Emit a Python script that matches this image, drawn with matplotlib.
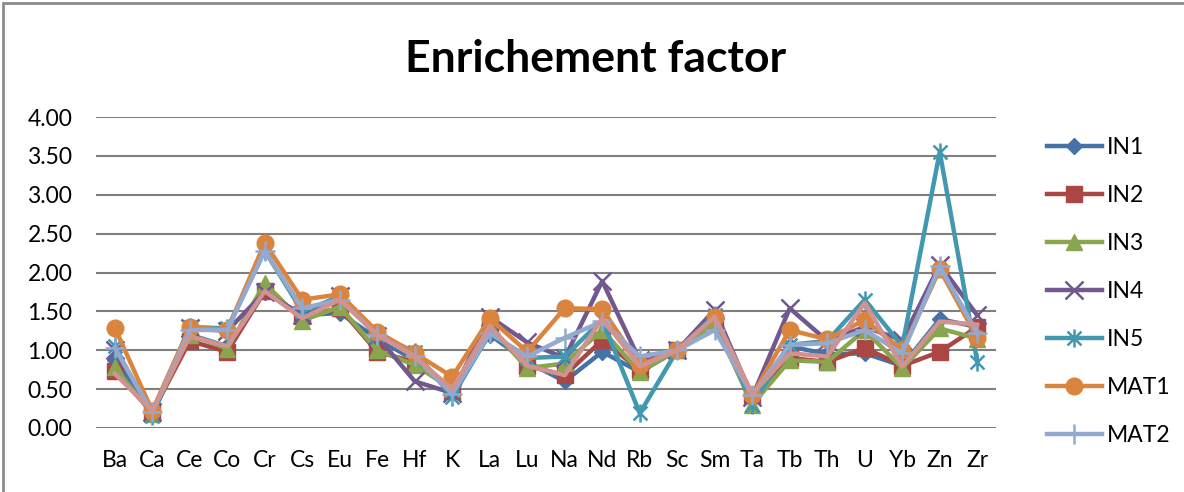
import matplotlib
matplotlib.use("Agg")
import matplotlib.pyplot as plt
from matplotlib.path import Path
from matplotlib.patches import Rectangle

elements = ["Ba", "Ca", "Ce", "Co", "Cr", "Cs", "Eu", "Fe", "Hf", "K", "La", "Lu",
            "Na", "Nd", "Rb", "Sc", "Sm", "Ta", "Tb", "Th", "U", "Yb", "Zn", "Zr"]

IN1 = [0.88, 0.18, 1.20, 1.05, 1.75, 1.45, 1.48, 1.15, 0.87, 0.48, 1.20, 0.85,
       0.60, 0.98, 0.72, 1.00, 1.35, 0.40, 1.05, 0.95, 0.96, 0.80, 1.40, 1.30]
IN2 = [0.73, 0.20, 1.12, 0.98, 1.76, 1.44, 1.54, 0.98, 0.85, 0.48, 1.30, 0.80,
       0.68, 1.13, 0.75, 1.00, 1.35, 0.42, 0.90, 0.85, 1.03, 0.80, 0.98, 1.30]
IN3 = [0.78, 0.18, 1.20, 1.02, 1.86, 1.38, 1.56, 1.00, 0.81, 0.50, 1.30, 0.77,
       0.83, 1.26, 0.72, 1.00, 1.35, 0.30, 0.87, 0.85, 1.26, 0.77, 1.28, 1.15]
IN4 = [1.00, 0.20, 1.28, 1.25, 1.75, 1.45, 1.70, 1.18, 0.60, 0.45, 1.43, 1.10,
       0.90, 1.89, 0.87, 1.00, 1.52, 0.40, 1.54, 1.12, 1.30, 1.13, 2.10, 1.45]
IN5 = [1.05, 0.15, 1.30, 1.28, 2.28, 1.50, 1.69, 1.20, 0.98, 0.40, 1.22, 0.90,
       0.92, 1.39, 0.19, 1.00, 1.45, 0.30, 1.07, 1.12, 1.65, 1.05, 3.55, 0.85]
MAT1 = [1.29, 0.22, 1.30, 1.26, 2.38, 1.65, 1.72, 1.24, 0.96, 0.66, 1.41, 0.98,
        1.54, 1.53, 0.81, 1.00, 1.43, 0.42, 1.26, 1.14, 1.39, 1.00, 2.04, 1.16]
MAT2 = [1.03, 0.20, 1.26, 1.26, 2.28, 1.54, 1.65, 1.20, 0.92, 0.44, 1.22, 0.92,
        1.16, 1.37, 0.92, 1.00, 1.26, 0.42, 1.07, 1.09, 1.26, 0.96, 2.08, 1.22]
MAT3 = [0.70, 0.22, 1.18, 1.05, 1.76, 1.41, 1.65, 1.20, 0.92, 0.50, 1.31, 0.80,
        0.68, 1.41, 0.79, 1.00, 1.43, 0.44, 0.96, 0.92, 1.61, 0.79, 1.37, 1.33]

series_names = ["IN1", "IN2", "IN3", "IN4", "IN5", "MAT1", "MAT2", "MAT3"]
series_data = [IN1, IN2, IN3, IN4, IN5, MAT1, MAT2, MAT3]
colors = ["#4572A7", "#AA4643", "#89A54E", "#71588F", "#4198AF",
          "#DB843D", "#93A9CF", "#D19392"]

# Excel-like asterisk marker: x plus vertical line
ast = Path([(-1, -1), (1, 1), (-1, 1), (1, -1), (0, -1.3), (0, 1.3)],
           [Path.MOVETO, Path.LINETO, Path.MOVETO, Path.LINETO, Path.MOVETO, Path.LINETO])
markers = ["D", "s", "^", "x", ast, "o", "+", None]
msizes = [8, 11, 11, 13, 13, 12, 14, 0]

font = "Lato"
plt.rcParams["font.family"] = [font, "DejaVu Sans"]

fig = plt.figure(figsize=(11.84, 4.92), dpi=100)
W, H = 1184, 492
ax = fig.add_axes([96 / W, 1 - 428 / H, 900 / W, 311 / H])

x = list(range(len(elements)))
handles = []
for name, data, c, m, ms in zip(series_names, series_data, colors, markers, msizes):
    kw = {}
    if m is not None:
        if m in ("x", "+") or m is ast:
            kw = dict(marker=m, markersize=ms, markeredgewidth=1.8, markeredgecolor=c)
        else:
            kw = dict(marker=m, markersize=ms, markerfacecolor=c, markeredgecolor=c)
    h, = ax.plot(x, data, color=c, linewidth=3.2, solid_joinstyle="round",
                 label=name, **kw)
    handles.append(h)

ax.set_xlim(-0.5, len(elements) - 0.5)
ax.set_ylim(0, 4)
ax.set_yticks([0, 0.5, 1.0, 1.5, 2.0, 2.5, 3.0, 3.5, 4.0])
ax.set_yticklabels([f"{v:.2f}" for v in ax.get_yticks()])
ax.set_xticks(x)
ax.set_xticklabels(elements)
ax.yaxis.grid(True, color="#7f7f7f", linewidth=1.5)
ax.set_axisbelow(True)
for s in ax.spines.values():
    s.set_visible(False)
ax.tick_params(axis="both", length=0, labelsize=16.5, colors="#000000")
ax.tick_params(axis="y", pad=17)
ax.tick_params(axis="x", pad=16)

fig.text(596 / W, 1 - 59 / H, "Enrichement factor", ha="center", va="center",
         fontsize=32, fontweight="bold")

fig.legend(handles[:7], series_names[:7], loc="upper left",
           bbox_to_anchor=(1026 / W, 1 - 116 / H), frameon=False,
           fontsize=16.5, handlelength=2.4, handletextpad=0.25, labelspacing=1.18)

fig.patches.append(Rectangle((3 / W, -0.1), 1.2, 1 - 3 / H + 0.1, transform=fig.transFigure,
                             fill=False, edgecolor="#8c8c8c", linewidth=2))

fig.savefig("out.png", dpi=100)
